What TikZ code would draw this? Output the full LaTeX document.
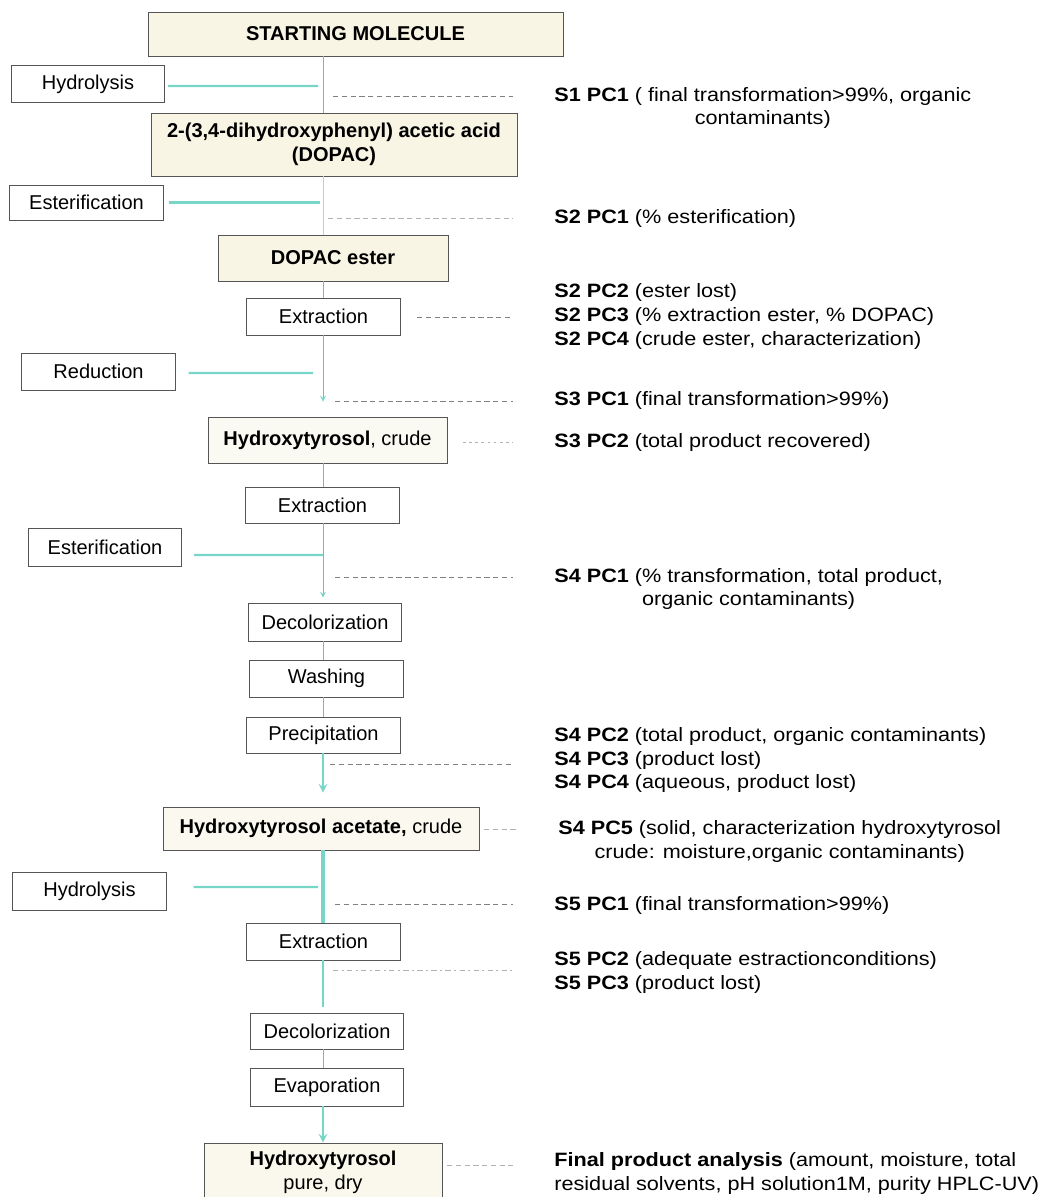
\documentclass[tikz,border=0pt]{standalone}
\usepackage{fontspec}
\setmainfont{Liberation Sans}
\newfontfamily\notefont[FakeStretch=1.12]{Liberation Sans}
\usetikzlibrary{calc}
\definecolor{feedteal}{RGB}{120,214,200}
\definecolor{prodfill}{RGB}{248,245,228}
\definecolor{boxline}{RGB}{85,85,85}
\begin{document}
\begin{tikzpicture}[
        x=0.02cm, y=-0.02cm,
        every node/.style={font=\fontsize{11.4}{13.6}\selectfont},
        stepbox/.style={draw=boxline, fill=white, minimum width=3.07cm, minimum height=0.74cm, inner sep=1pt},
        prodbox/.style={draw=boxline, fill=prodfill, inner sep=1pt, align=center},
        note/.style={anchor=west, inner sep=0pt, font=\notefont\fontsize{11}{13.6}\selectfont},
        flow/.style={draw=gray!70, line width=0.5pt},
        flowteal/.style={draw=feedteal, line width=1.2pt},
        feed/.style={draw=feedteal, line width=1.2pt},
        chk/.style={draw=gray, dashed, line width=0.4pt, dash pattern=on 3pt off 2pt, shorten >=0.82cm}
    ]
        \useasboundingbox (0,0) rectangle (1043,1197);
        \coordinate (axis) at (323,0);

        % products and steps on the main line
        \node[prodbox, minimum width=8.30cm, minimum height=0.88cm] (start) at (355.5,34) {\textbf{STARTING MOLECULE}};
        \node[stepbox] (hydro1) at (88,84) {Hydrolysis};
        \node[prodbox, minimum width=7.32cm, minimum height=1.26cm] (dopac) at (334,144.5) {\textbf{2-(3,4-dihydroxyphenyl) acetic acid}\\\textbf{(DOPAC)}};
        \node[stepbox, minimum height=0.70cm] (ester1) at (86.5,202.5) {Esterification};
        \node[prodbox, minimum width=4.60cm, minimum height=0.92cm] (dopacest) at (333,258) {\textbf{DOPAC ester}};
        \node[stepbox] (extr1) at (323.5,316.5) {Extraction};
        \node[stepbox] (reduct) at (98.5,371.5) {Reduction};
        \node[prodbox, fill=prodfill!50, minimum width=4.78cm, minimum height=0.92cm] (htcrude) at (327.5,440) {\textbf{Hydroxytyrosol}, crude};
        \node[stepbox, minimum height=0.72cm] (extr2) at (322.5,505) {Extraction};
        \node[stepbox, minimum height=0.76cm] (ester2) at (105,547) {Esterification};
        \node[stepbox, minimum height=0.76cm] (decol1) at (325,622) {Decolorization};
        \node[stepbox] (wash) at (326.5,678.5) {Washing};
        \node[stepbox, minimum height=0.72cm] (precip) at (323.5,735) {Precipitation};
        \node[prodbox, fill=prodfill!60, minimum width=6.32cm, minimum height=0.86cm] (htacet) at (321,828.5) {\textbf{Hydroxytyrosol acetate,} crude};
        \node[stepbox, minimum height=0.76cm] (hydro2) at (89.5,891) {Hydrolysis};
        \node[stepbox] (extr3) at (323.5,941.5) {Extraction};
        \node[stepbox, minimum height=0.72cm] (decol2) at (327,1031) {Decolorization};
        \node[stepbox, minimum height=0.76cm] (evap) at (327,1087) {Evaporation};
        \node[prodbox, fill=prodfill!70, minimum width=4.76cm, minimum height=1.16cm] (htpure) at (323,1172) {\textbf{Hydroxytyrosol}\\pure, dry};

        % process checks
        \node[note, align=center] (s1pc1) at (554,108) {\textbf{S1 PC1} ( final transformation>99\%, organic\\contaminants)};
        \node[note] (s2pc1) at (554,218) {\textbf{S2 PC1} (\% esterification)};
        \node[note, align=left] (s2pc2) at (554,316.5) {\textbf{S2 PC2} (ester lost)\\\textbf{S2 PC3} (\% extraction ester, \% DOPAC)\\\textbf{S2 PC4} (crude ester, characterization)};
        \node[note] (s3pc1) at (554,400) {\textbf{S3 PC1} (final transformation>99\%)};
        \node[note] (s3pc2) at (554,442) {\textbf{S3 PC2} (total product recovered)};
        \node[note, align=center] (s4pc1) at (554,589) {\textbf{S4 PC1} (\% transformation, total product,\\organic contaminants)};
        \node[note, align=left] (s4pc2) at (554,760) {\textbf{S4 PC2} (total product, organic contaminants)\\\textbf{S4 PC3} (product lost)\\\textbf{S4 PC4} (aqueous, product lost)};
        \node[note, align=center] (s4pc5) at (558,841.5) {\textbf{S4 PC5} (solid, characterization hydroxytyrosol\\crude: moisture,organic contaminants)};
        \node[note] (s5pc1) at (554,905) {\textbf{S5 PC1} (final transformation>99\%)};
        \node[note, align=left] (s5pc2) at (554,972.5) {\textbf{S5 PC2} (adequate estractionconditions)\\\textbf{S5 PC3} (product lost)};
        \node[note, align=left] (final) at (554,1173.5) {\textbf{Final product analysis} (amount, moisture, total\\residual solvents, pH solution1M, purity HPLC-UV)};

        % main line
        \draw[flow] (start.south -| axis) -- (dopac.north -| axis);
        \draw[flow, gray!40] (dopac.south -| axis) -- (dopacest.north -| axis);
        \draw[flow] (dopacest.south -| axis) -- (extr1.north -| axis);
        \draw[flow, -{stealth[feedteal]}, shorten >=0.3cm] (extr1.south -| axis) -- (htcrude.north -| axis);
        \draw[flow] (htcrude.south -| axis) -- (extr2.north -| axis);
        \draw[flow, -{stealth[feedteal]}, shorten >=0.1cm] (extr2.south -| axis) -- (decol1.north -| axis);
        \draw[flow] (decol1.south -| axis) -- (wash.north -| axis);
        \draw[flow] (wash.south -| axis) -- (precip.north -| axis);
        \draw[flowteal, -stealth, shorten >=0.28cm] (precip.south -| axis) -- (htacet.north -| axis);
        \draw[flowteal, line width=1.8pt] (htacet.south -| axis) -- (extr3.north -| axis);
        \draw[flowteal, shorten >=0.12cm] (extr3.south -| axis) -- (decol2.north -| axis);
        \draw[flow] (decol2.south -| axis) -- (evap.north -| axis);
        \draw[flowteal, -stealth] (evap.south -| axis) -- (htpure.north -| axis);

        % reagent feeds
        \draw[feed] ([xshift=0.06cm,yshift=-0.04cm]hydro1.east) -- ($(hydro1.east -| axis)+(-5,2)$);
        \draw[feed] ([xshift=0.1cm]ester1.east) -- ($(ester1.east -| axis)+(-3,0)$);
        \draw[feed] ([xshift=0.26cm,yshift=-0.03cm]reduct.east) -- ($(reduct.east -| axis)+(-10,1.5)$);
        \draw[feed] ([xshift=0.24cm,yshift=-0.16cm]ester2.east) -- ($(ester2.east -| axis)+(0,8)$);
        \draw[feed] ([xshift=0.54cm,yshift=0.08cm]hydro2.east) -- ($(hydro2.east -| axis)+(-5,-4)$);

        % check lines
        \coordinate (k11) at (333,96);
        \coordinate (k21) at (328,218);
        \coordinate (k22) at (417,317);
        \coordinate (k31) at (335,401);
        \coordinate (k32) at (463,442);
        \coordinate (k41) at (335,577);
        \coordinate (k42) at (330,764);
        \coordinate (k45) at (484,829);
        \coordinate (k51) at (335,904);
        \coordinate (k52) at (333,970);
        \coordinate (kfin) at (447,1165);
        \draw[chk] (k11) -- (k11 -| s1pc1.west);
        \draw[chk, gray!60] (k21) -- (k21 -| s2pc1.west);
        \draw[chk] (k22) -- (k22 -| s2pc2.west);
        \draw[chk] (k31) -- (k31 -| s3pc1.west);
        \draw[chk, gray!60, dash pattern=on 1.5pt off 2pt] (k32) -- (k32 -| s3pc2.west);
        \draw[chk] (k41) -- (k41 -| s4pc1.west);
        \draw[chk] (k42) -- (k42 -| s4pc2.west);
        \draw[chk, gray!60] (k45) -- (k45 -| s4pc5.west);
        \draw[chk] (k51) -- (k51 -| s5pc1.west);
        \draw[chk, gray!60, dash pattern=on 3pt off 2pt on 1pt off 2pt] (k52) -- (k52 -| s5pc2.west);
        \draw[chk, gray!60] (kfin) -- (kfin -| final.west);
\end{tikzpicture}
\end{document}
